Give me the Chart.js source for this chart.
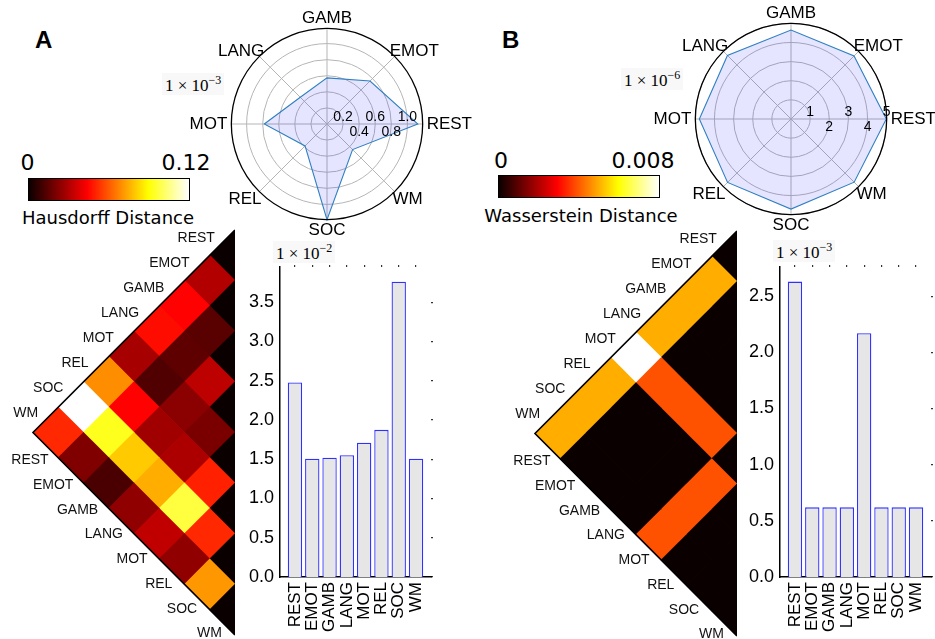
<!DOCTYPE html>
<html>
<head>
<meta charset="utf-8">
<script src="https://cdn.jsdelivr.net/npm/chart.js@4"></script>
<style>
  body { margin: 0; background: #fff; }
  #fig { position: relative; width: 935px; height: 639px; overflow: hidden; font-family: "Liberation Sans", Arial, sans-serif; }
  canvas, .txt { position: absolute; }
  .txt { line-height: 1; white-space: nowrap; color: #000; }
  .panel { font-weight: bold; font-size: 24px; }
  .cbar { position: absolute; box-sizing: border-box; border: 1px solid #000;
          background: linear-gradient(to right, #0b0000 0%, #ff0000 36.5%, #ffff00 74.6%, #ffffff 100%); }
  .cb { font-family: "DejaVu Sans", sans-serif; font-size: 22px; transform: translateX(-50%); }
  .cbt { font-family: "DejaVu Sans", sans-serif; font-size: 18px; transform: translateX(-50%); }
  .exp { font-family: "Liberation Serif", "DejaVu Serif", serif; font-size: 17px; background: #f8f8f8; padding: 1px 3px; }
  .exp sup { font-size: 12px; }
</style>
</head>
<body>
<div id="fig">
  <div class="txt panel" style="left:35px; top:28px;">A</div>
  <div class="txt panel" style="left:502px; top:28px;">B</div>

  <div class="cbar" style="left:28px; top:178px; width:162px; height:23px;"></div>
  <div class="txt cb" style="left:27.5px; top:152px;">0</div>
  <div class="txt cb" style="left:186px; top:152px;">0.12</div>
  <div class="txt cbt" style="left:108px; top:209px;">Hausdorff Distance</div>

  <div class="cbar" style="left:498px; top:175px; width:162px; height:23px;"></div>
  <div class="txt cb" style="left:501px; top:150px;">0</div>
  <div class="txt cb" style="left:643px; top:150px;">0.008</div>
  <div class="txt cbt" style="left:581px; top:207px;">Wasserstein Distance</div>

  <div class="txt exp" style="left:162px; top:73px;">1 × 10<sup>−3</sup></div>
  <div class="txt exp" style="left:621px; top:68px;">1 × 10<sup>−6</sup></div>
  <div class="txt exp" style="left:273px; top:241px;">1 × 10<sup>−2</sup></div>
  <div class="txt exp" style="left:773px; top:240px;">1 × 10<sup>−3</sup></div>

  <canvas id="heatA" width="235" height="417" style="left:0px; top:222px;"></canvas>
  <canvas id="heatB" width="257" height="417" style="left:480px; top:223px;"></canvas>
  <canvas id="barA" width="195" height="376" style="left:240px; top:263px;"></canvas>
  <canvas id="barB" width="195" height="376" style="left:740px; top:263px;"></canvas>
  <canvas id="radarA" width="290" height="290" style="left:186px; top:-21px;"></canvas>
  <canvas id="radarB" width="290" height="290" style="left:650px; top:-26px;"></canvas>
</div>
<script>
Chart.defaults.font.family = '"Liberation Sans", Arial, sans-serif';
Chart.defaults.color = '#000';

const tasks = ['REST', 'EMOT', 'GAMB', 'LANG', 'MOT', 'REL', 'SOC', 'WM'];

// radar values (task order), scaled as in the axis note
const radarA = [1.13, 0.757, 0.574, 0.47, 0.78, 0.386, 1.19, 0.45];
const radarB = [4.98, 4.66, 4.65, 4.70, 4.79, 4.69, 4.71, 4.67];
const radarTicksA = [0.2, 0.4, 0.6, 0.8, 1.0];
const radarTicksB = [1, 2, 3, 4, 5];

// bar values (task order)
const barA = [2.478, 1.507, 1.52, 1.55, 1.71, 1.874, 3.76, 1.507];
const barB = [2.63, 0.62, 0.62, 0.62, 2.17, 0.62, 0.62, 0.62];

// pairwise distances, lower triangle: row i = distances to tasks 0..i-1
const hausdorffRows = [
  [],
  [0.030],
  [0.044, 0.014],
  [0.046, 0.015, 0.032],
  [0.028, 0.0125, 0.023, 0.020],
  [0.069, 0.044, 0.027, 0.029, 0.0495],
  [0.120, 0.093, 0.080, 0.075, 0.097, 0.051],
  [0.051, 0.021, 0.0114, 0.024, 0.0325, 0.024, 0.071]
];
const wassersteinRows = [
  [],
  [0.0050],
  [0.0050, 0],
  [0.0050, 0, 0],
  [0.0080, 0.0039, 0.0039, 0.0039],
  [0.0050, 0, 0, 0, 0.0039],
  [0.0050, 0, 0, 0, 0.0039, 0],
  [0.0050, 0, 0, 0, 0.0039, 0, 0]
];

// matplotlib "hot"
function hot(t) {
  t = Math.max(0, Math.min(1, t));
  const r = t < 0.365 ? 0.0416 + t / 0.365 * 0.9584 : 1;
  const g = t < 0.365 ? 0 : (t < 0.746 ? (t - 0.365) / 0.381 : 1);
  const b = t < 0.746 ? 0 : (t - 0.746) / 0.254;
  return 'rgb(' + Math.round(r * 255) + ',' + Math.round(g * 255) + ',' + Math.round(b * 255) + ')';
}

// ---------- triangular heatmaps ----------
const edgeLabels = {
  id: 'edgeLabels',
  afterDatasetsDraw(chart) {
    const ctx = chart.ctx, x = chart.scales.x, y = chart.scales.y;
    const n = tasks.length;
    ctx.save();
    ctx.font = '14px "Liberation Sans", Arial, sans-serif';
    ctx.fillStyle = '#111';
    ctx.textAlign = 'right';
    ctx.textBaseline = 'middle';
    tasks.forEach((t, i) => {
      ctx.fillText(t, x.getPixelForValue(-(i + 0.5)) - 7.5, y.getPixelForValue(i + 0.5) - 4.5 - 0.28 * i);
      ctx.fillText(t, x.getPixelForValue(-n + i + 0.5) + 3 - 0.5 * i, y.getPixelForValue(n + i + 0.5) + 15 - 0.55 * i);
    });
    ctx.restore();
  }
};

function heatmap(id, rows, vmax, padLeft) {
  const n = tasks.length;
  const cells = [];
  for (let a = 0; a < n; a++) {
    for (let b = 0; b <= a; b++) {
      cells.push({ x: b - a, y: a + b + 1, v: a === b ? 0 : rows[a][b] });
    }
  }
  const edge = [{ x: 0, y: 0 }, { x: -n, y: n }, { x: 0, y: 2 * n }];
  const cellColor = c => hot(c.raw.v / vmax);
  // half-diagonal of a cell, slightly enlarged so neighbours overlap without seams
  const cellRadius = c => {
    const s = c.chart.scales.x;
    return Math.abs(s.getPixelForValue(1) - s.getPixelForValue(0)) + 0.6;
  };
  new Chart(document.getElementById(id), {
    type: 'scatter',
    data: {
      datasets: [
        { type: 'line', data: edge, borderColor: '#000', borderWidth: 1.6, pointRadius: 0, fill: false, clip: false },
        { data: cells, pointStyle: 'rectRot', pointRadius: cellRadius, pointHoverRadius: cellRadius,
          pointBackgroundColor: cellColor, pointBorderWidth: 0, clip: 0 }
      ]
    },
    options: {
      responsive: false,
      animation: false,
      events: [],
      layout: { padding: { left: padLeft, top: 8, right: 0, bottom: 4 } },
      scales: {
        x: { type: 'linear', min: -n, max: 0, display: false },
        y: { type: 'linear', min: 0, max: 2 * n, reverse: true, display: false }
      },
      plugins: { legend: { display: false }, tooltip: { enabled: false } }
    },
    plugins: [edgeLabels]
  });
}

heatmap('heatA', hausdorffRows, 0.12, 33);
heatmap('heatB', wassersteinRows, 0.008, 55);

// ---------- bar charts ----------
function barChart(id, values, ymax) {
  const lo = -0.865, hi = tasks.length - 1 + 0.865;
  const taskTicks = s => { s.ticks = tasks.map((t, i) => ({ value: i })); };
  new Chart(document.getElementById(id), {
    type: 'bar',
    data: {
      datasets: [{
        data: values.map((v, i) => ({ x: i, y: v })),
        backgroundColor: '#e6e6e6',
        borderColor: 'rgba(25,25,255,0.9)',
        borderWidth: 1.3,
        barPercentage: 0.83,
        categoryPercentage: 1
      }]
    },
    options: {
      responsive: false,
      animation: false,
      events: [],
      scales: {
        x: {
          type: 'linear', min: lo, max: hi, offset: false,
          afterBuildTicks: taskTicks,
          grid: { display: false, drawTicks: false, offset: false },
          border: { color: '#000', width: 1.5 },
          ticks: { autoSkip: false, minRotation: 90, maxRotation: 90, padding: 5, font: { size: 17 },
                   callback: v => tasks[v] },
          afterFit: s => { s.height = 62; s.paddingLeft = 0; s.paddingRight = 0; }
        },
        x2: {
          type: 'linear', position: 'top', min: lo, max: hi, offset: false,
          afterBuildTicks: taskTicks,
          grid: { drawOnChartArea: false, tickLength: 2, color: '#333', lineWidth: 1.2, offset: false },
          border: { display: false },
          ticks: { display: false },
          afterFit: s => { s.height = 4; s.paddingLeft = 0; s.paddingRight = 0; }
        },
        y: {
          min: 0, max: ymax,
          grid: { display: false, drawTicks: false },
          border: { color: '#000', width: 1.5 },
          ticks: { stepSize: 0.5, includeBounds: false, padding: 6, font: { size: 18 }, callback: v => v.toFixed(1) },
          afterFit: s => { s.width = 40; s.paddingTop = 0; s.paddingBottom = 0; }
        },
        y2: {
          position: 'right', min: 0, max: ymax,
          grid: { drawOnChartArea: false, tickLength: 2, color: '#333', lineWidth: 1.2 },
          border: { display: false },
          ticks: { display: false, stepSize: 0.5, includeBounds: false },
          afterFit: s => { s.width = 4; s.paddingTop = 0; s.paddingBottom = 0; }
        }
      },
      plugins: { legend: { display: false }, tooltip: { enabled: false } }
    }
  });
}

barChart('barA', barA, 3.948);
barChart('barB', barB, 2.76);

// ---------- radar charts ----------
const radarDecor = {
  id: 'radarDecor',
  afterDatasetsDraw(chart, args, opts) {
    const r = chart.scales.r, ctx = chart.ctx;
    ctx.save();
    ctx.beginPath();
    ctx.arc(r.xCenter, r.yCenter, r.drawingArea, 0, 2 * Math.PI);
    ctx.strokeStyle = '#000';
    ctx.lineWidth = 1.3;
    ctx.stroke();
    ctx.font = '14px "Liberation Sans", Arial, sans-serif';
    ctx.fillStyle = '#000';
    ctx.textAlign = 'center';
    ctx.textBaseline = 'middle';
    opts.ticks.forEach((v, i) => {
      const d = r.getDistanceFromCenterForValue(v);
      ctx.fillText(v.toFixed(opts.digits), r.xCenter + d, r.yCenter + (i % 2 ? 8 : -6.5));
    });
    ctx.restore();
  }
};

// counter-clockwise from the right, as on a polar axis
const radarOrder = [0, 7, 6, 5, 4, 3, 2, 1];
// label gap per position: right, lower-right, bottom, lower-left, left, upper-left, top, upper-right
const labelPad = [4, -3, 0, -3, 4, -7, 0, -7];

function radar(id, values, max, ticks, digits) {
  new Chart(document.getElementById(id), {
    type: 'radar',
    data: {
      labels: radarOrder.map(i => tasks[i]),
      datasets: [{
        data: radarOrder.map(i => values[i]),
        fill: true,
        backgroundColor: 'rgba(0,0,255,0.1)',
        borderColor: '#2f7fc1',
        borderWidth: 1.1,
        pointRadius: 0,
        tension: 0
      }]
    },
    options: {
      responsive: false,
      animation: false,
      events: [],
      scales: {
        r: {
          min: 0, max: max, startAngle: 90,
          afterBuildTicks: s => { s.ticks = [0].concat(ticks).map(v => ({ value: v })); },
          ticks: { display: false },
          grid: { circular: true, color: '#b5b5b5', lineWidth: 1 },
          angleLines: { color: '#b5b5b5', lineWidth: 1 },
          pointLabels: { font: { size: 17 }, color: '#000', padding: c => labelPad[c.index] }
        }
      },
      plugins: { legend: { display: false }, tooltip: { enabled: false }, radarDecor: { ticks: ticks, digits: digits } }
    },
    plugins: [radarDecor]
  });
}

radar('radarA', radarA, 1.19, radarTicksA, 1);
radar('radarB', radarB, 5, radarTicksB, 0);
</script>
</body>
</html>
